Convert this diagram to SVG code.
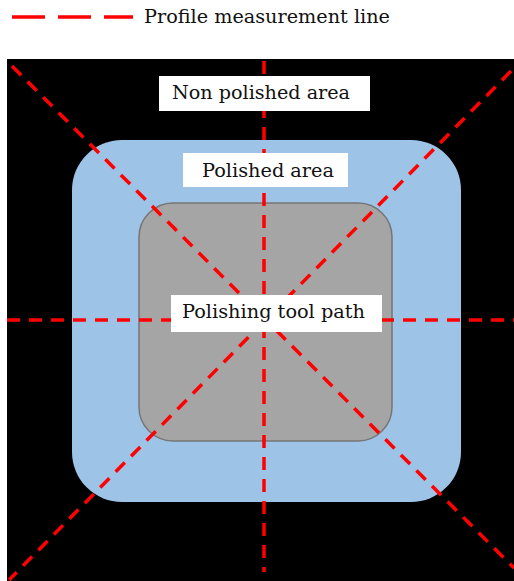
<svg xmlns="http://www.w3.org/2000/svg" width="514" height="581" viewBox="0 0 514 581">
<style>
.lbl{fill:#fff}
.t{font-family:"DejaVu Serif","Liberation Serif",serif;font-size:19px;fill:#111;text-anchor:middle}
.m{stroke:#ff0000;stroke-width:3.5;fill:none;stroke-dasharray:13 9}
</style>
<rect width="514" height="581" fill="#fff"/>
<g id="legend">
<path d="M12 17H45M58 17H91M104 17H133" stroke="#ff0000" stroke-width="3.5" fill="none"/>
<text x="144" y="23" textLength="246" lengthAdjust="spacingAndGlyphs" style="font-family:'DejaVu Serif','Liberation Serif',serif;font-size:19px;fill:#111">Profile measurement line</text>
</g>
<g id="non-polished-area">
<rect x="7" y="59" width="507" height="522" fill="#000"/>
</g>
<g id="polished-area">
<rect x="72" y="140" width="389" height="362" rx="50" fill="#9dc3e6"/>
</g>
<g id="tool-path">
<rect x="139" y="203" width="253" height="238" rx="34" fill="#a5a5a5" stroke="#767676" stroke-width="1.5"/>
</g>
<g id="connectors">
<line class="m" x1="264" y1="61" x2="264" y2="572"/>
<line class="m" x1="7" y1="320" x2="514" y2="320"/>
<line class="m" x1="12" y1="66" x2="514" y2="568"/>
<line class="m" x1="511" y1="71" x2="9" y2="580"/>
</g>
<g id="label-non-polished">
<rect class="lbl" x="159" y="76" width="211" height="35"/>
<text class="t" x="261" y="99" textLength="178" lengthAdjust="spacingAndGlyphs">Non polished area</text>
</g>
<g id="label-polished">
<rect class="lbl" x="183" y="153" width="165" height="34"/>
<text class="t" x="268" y="177" textLength="132" lengthAdjust="spacingAndGlyphs">Polished area</text>
</g>
<g id="label-tool-path">
<rect class="lbl" x="171" y="295" width="211" height="37"/>
<text class="t" x="273.5" y="318" textLength="183" lengthAdjust="spacingAndGlyphs">Polishing tool path</text>
</g>
</svg>
